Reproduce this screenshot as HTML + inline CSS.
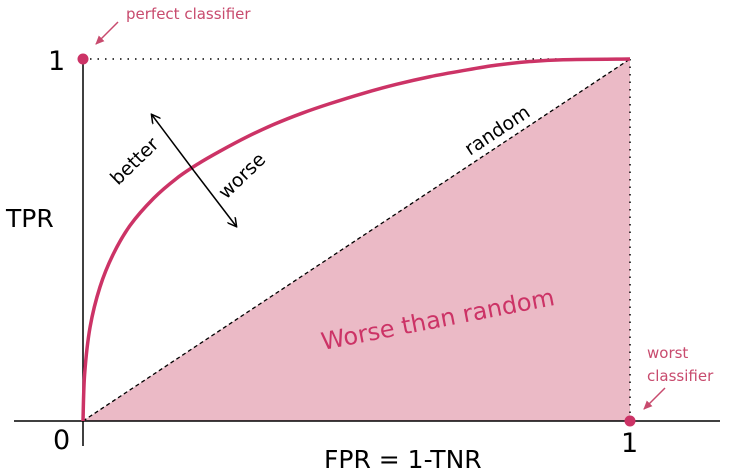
<!DOCTYPE html>
<html><head><meta charset="utf-8"><style>
body{margin:0;background:#fff}
svg{display:block;font-family:"DejaVu Sans","Liberation Sans",sans-serif}
</style></head><body>
<svg width="731" height="473" viewBox="0 0 731 473">
<defs><marker id="ah" markerWidth="10" markerHeight="10" refX="8" refY="5" orient="auto" markerUnits="userSpaceOnUse"><path d="M0,0 L9,5 L0,10" fill="none" stroke="#000" stroke-width="1.5"/></marker>
<marker id="ap" markerWidth="10" markerHeight="10" refX="8" refY="5" orient="auto" markerUnits="userSpaceOnUse"><path d="M0,1 L9,5 L0,9 Z" fill="#c84b6e"/></marker></defs>
<polygon points="83,421 630,59 630,421" fill="#ebbac6"/>
<line x1="14" y1="421" x2="720" y2="421" stroke="#000" stroke-width="1.5"/>
<line x1="83" y1="59" x2="83" y2="446" stroke="#000" stroke-width="1.5"/>
<line x1="90" y1="59" x2="630" y2="59" stroke="#000" stroke-width="1.5" stroke-dasharray="1.5,6"/>
<line x1="630" y1="59" x2="630" y2="418" stroke="#000" stroke-width="1.5" stroke-dasharray="1.5,6"/>
<line x1="83" y1="421" x2="630" y2="59" stroke="#000" stroke-width="1.3" stroke-dasharray="4,3"/>
<path id="roc" fill="none" stroke="#cc3366" stroke-width="3.5"/>
<circle cx="83" cy="59" r="5.5" fill="#cc3366"/>
<circle cx="630" cy="421" r="5.5" fill="#cc3366"/>
<line x1="194" y1="171" x2="152" y2="115" stroke="#000" stroke-width="1.5" marker-end="url(#ah)"/>
<line x1="194" y1="171" x2="236" y2="226" stroke="#000" stroke-width="1.5" marker-end="url(#ah)"/>
<text x="0" y="0" font-size="19" transform="translate(118,186) rotate(-44)">better</text>
<text x="0" y="0" font-size="19" transform="translate(226,200) rotate(-44)">worse</text>
<text x="0" y="0" font-size="19" transform="translate(470,156) rotate(-33.5)">random</text>
<text x="0" y="0" font-size="24" fill="#cc3366" transform="translate(323,350) rotate(-11)">Worse than random</text>
<text x="48" y="70" font-size="27">1</text>
<text x="6" y="227" font-size="25">TPR</text>
<text x="53" y="449" font-size="27">0</text>
<text x="621" y="452" font-size="27">1</text>
<text x="324" y="468" font-size="25">FPR = 1-TNR</text>
<text x="126" y="19" font-size="15" fill="#c84b6e">perfect classifier</text>
<line x1="118" y1="22" x2="96" y2="44" stroke="#c84b6e" stroke-width="1.5" marker-end="url(#ap)"/>
<text x="647" y="358" font-size="15" fill="#c84b6e">worst</text>
<text x="647" y="381" font-size="15" fill="#c84b6e">classifier</text>
<line x1="665" y1="388" x2="644" y2="409" stroke="#c84b6e" stroke-width="1.5" marker-end="url(#ap)"/>
</svg>
<script>
const fprValues=[0,0.003,0.013,0.031,0.055,0.086,0.129,0.171,0.21,0.25,0.30,0.35,0.40,0.45,0.512,0.573,0.634,0.695,0.756,0.817,0.878,1];
const tprValues=[0,0.13,0.26,0.37,0.46,0.54,0.615,0.67,0.71,0.745,0.785,0.82,0.85,0.876,0.905,0.930,0.951,0.968,0.983,0.993,0.998,1];
const X=v=>83+v*547, Y=v=>421-v*362;
const p=fprValues.map((f,i)=>[X(f),Y(tprValues[i])]);
let d='M'+p[0][0]+','+p[0][1];
for(let i=0;i<p.length-1;i++){
 const p0=p[Math.max(0,i-1)],p1=p[i],p2=p[i+1],p3=p[Math.min(p.length-1,i+2)];
 const c1=[p1[0]+(p2[0]-p0[0])/6,p1[1]+(p2[1]-p0[1])/6];
 const c2=[p2[0]-(p3[0]-p1[0])/6,p2[1]-(p3[1]-p1[1])/6];
 d+=`C${c1[0]},${c1[1]} ${c2[0]},${c2[1]} ${p2[0]},${p2[1]}`;
}
document.getElementById('roc').setAttribute('d',d);
</script>
</body></html>
